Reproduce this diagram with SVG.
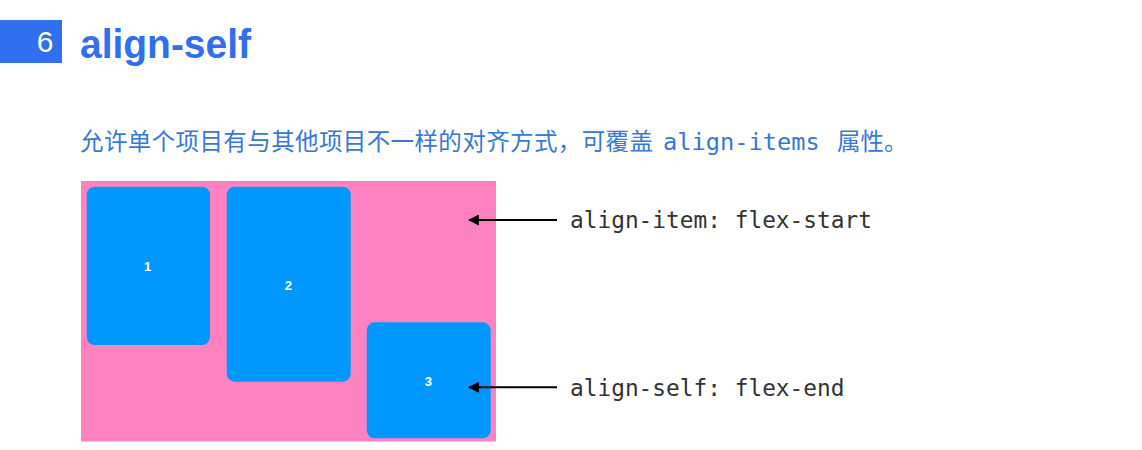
<svg xmlns="http://www.w3.org/2000/svg" width="1142" height="450" viewBox="0 0 1142 450">
<style>
.item{fill:#0098FF}
.num{font-family:"Liberation Sans",Arial,sans-serif;font-weight:bold;font-size:13px;fill:#ffffff;text-anchor:middle}
.mono{font-family:"DejaVu Sans Mono","Liberation Mono",monospace}
.lbl{font-size:22.8px;fill:#333333}
.conn{stroke:#000;stroke-width:2;fill:none}
</style>
<defs>
<marker id="ah" viewBox="0 0 10 10" refX="9" refY="5" markerWidth="5.5" markerHeight="5.5" orient="auto-start-reverse" markerUnits="strokeWidth">
<path d="M0,0 L10,5 L0,10 Z" fill="#000"/>
</marker>
</defs>
<rect width="1142" height="450" fill="#ffffff"/>
<g id="title">
<rect x="0" y="20" width="62" height="43" fill="#2F6FF0"/>
<text x="45" y="51.7" font-family="Liberation Sans,Arial,sans-serif" font-size="30" fill="#ffffff" text-anchor="middle">6</text>
<text x="80" y="58.3" font-family="Liberation Sans,Arial,sans-serif" font-size="41" font-weight="bold" fill="#2F6FF0" textLength="171" lengthAdjust="spacingAndGlyphs">align-self</text>
</g>
<g id="description">
<text y="150" font-size="23.5" fill="#3578E0"><tspan x="80" font-family="'Noto Sans CJK SC',sans-serif" textLength="573" lengthAdjust="spacing">允许单个项目有与其他项目不一样的对齐方式，可覆盖</tspan><tspan x="663" class="mono" font-size="23.7">align-items</tspan><tspan x="837" font-family="'Noto Sans CJK SC',sans-serif">属性。</tspan></text>
</g>
<g id="container">
<rect x="81" y="181" width="415" height="260.5" fill="#FF82C0"/>
</g>
<g id="item1">
<rect class="item" x="86.7" y="186.7" width="123.3" height="158.3" rx="8"/>
<text class="num" x="147.7" y="271">1</text>
</g>
<g id="item2">
<rect class="item" x="226.7" y="186.7" width="124" height="195" rx="8"/>
<text class="num" x="288.3" y="290">2</text>
</g>
<g id="item3">
<rect class="item" x="366.7" y="322.3" width="124" height="116" rx="8"/>
<text class="num" x="428.3" y="385.5">3</text>
</g>
<g id="connectors">
<line class="conn" x1="557" y1="220" x2="469" y2="220" marker-end="url(#ah)"/>
<line class="conn" x1="557" y1="387.3" x2="469" y2="387.3" marker-end="url(#ah)"/>
</g>
<g id="label-align-item">
<text class="mono lbl" x="570" y="228.3">align-item: flex-start</text>
</g>
<g id="label-align-self">
<text class="mono lbl" x="570" y="395.5">align-self: flex-end</text>
</g>
</svg>
